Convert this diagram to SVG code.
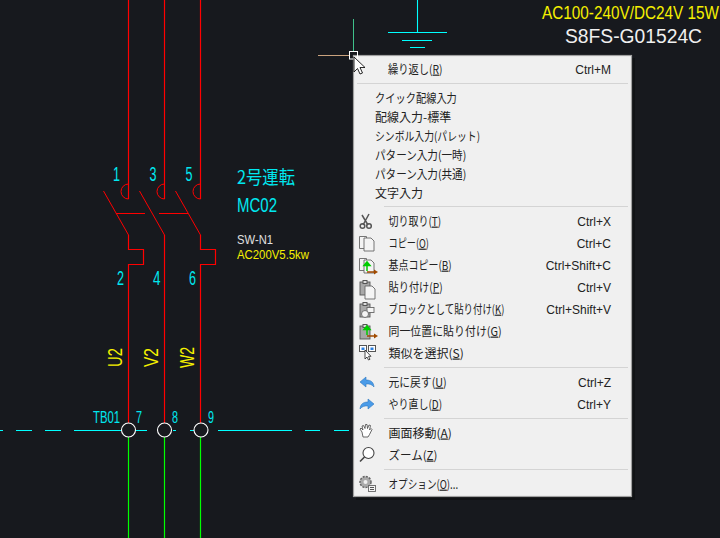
<svg xmlns="http://www.w3.org/2000/svg" width="720" height="538" viewBox="0 0 720 538">
<style>
.red{fill:none;stroke:#f00;stroke-width:1.2}
.redt{fill:none;stroke:#f00;stroke-width:1}
.grn{fill:none;stroke:#0f0;stroke-width:1.2}
.cy{fill:none;stroke:#0ff;stroke-width:1.1}
.cad{font-family:"Liberation Sans",sans-serif}
.c{fill:#00e8f0}.y{fill:#f5f000}.w{fill:#f0f0f0}
.m{font-family:"Noto Sans CJK JP","Noto Sans",sans-serif;font-size:12px;fill:#222}
.k{font-family:"Liberation Sans","Noto Sans",sans-serif;font-size:12px;fill:#222;text-anchor:end}
.sep{stroke:#d4d4d4;stroke-width:1.2}
.ic{fill:#f4f4f4;stroke:#666;stroke-width:.9}
.icd{fill:#a8a8a8;stroke:#555;stroke-width:.9}
.u{text-decoration:underline}
</style>
<defs>
<g id="sheet"><path class="ic" d="M0 0h7l3 3v10H0z"/></g>
<g id="board"><rect class="icd" x="0" y="2" width="10" height="13"/><rect x="3" y="0.5" width="4" height="3" fill="#ddd" stroke="#555"/></g>
<g id="basearrow"><path d="M0 6h9" stroke="#a04a00" stroke-width="1.5"/><path d="M7 3.500l4 2.500-4 2.500z" fill="#a04a00"/><path d="M0 5V-1M-3 -0.500L0 -4l3 3.500z" fill="#0c0" stroke="#0c0" stroke-width="1.500"/></g>
</defs>
<rect width="720" height="538" fill="#17191e"/>

<g id="connectors">
<path class="red" d="M128.500 0V199"/><path class="red" d="M164.500 0V199"/><path class="red" d="M200.500 0V199"/>
<path class="redt" d="M128.500 184A7.500 7.500 0 0 0 128.500 199M164.500 184A7.500 7.500 0 0 0 164.500 199M200.500 184A7.500 7.500 0 0 0 200.500 199"/>
<path class="redt" d="M103.500 191L128.500 235M139.500 191L164.500 235M175.500 191L200.500 235M116 213.500H145M159 213.500H188"/>
<path class="red" d="M128.500 235V249.500H143.500V264.500H128.500V423"/>
<path class="red" d="M164.500 235V423"/>
<path class="red" d="M200.500 235V249.500H215.500V264.500H200.500V423"/>
<path class="grn" d="M128.500 437V538M164.500 437V538M200.500 437V538"/>
<path class="cy" d="M0 430.500H3M16 430.500H32M45 430.500H61M74 430.500H121M136 430.500H147M173 430.500H176M190 430.500H194M218 430.500H292M305 430.500H320M334 430.500H349"/>
<path class="cy" d="M417.500 0V32M388 32.500H447M402 40.500H432M410 47.500H425"/>
</g>

<g id="terminals" fill="none" stroke="#fff" stroke-width="1.100">
<circle cx="128.500" cy="430" r="7"/><circle cx="164.500" cy="430" r="7"/><circle cx="201" cy="430" r="7"/>
</g>

<g id="cad-labels" class="cad">
<text class="y" transform="translate(542 19) scale(.806 1)" font-size="19">AC100-240V/DC24V 15W</text>
<text class="w" x="565" y="43" font-size="20" textLength="137" lengthAdjust="spacingAndGlyphs">S8FS-G01524C</text>
<g class="c" font-size="19.500">
<text x="113" y="180.500" textLength="7" lengthAdjust="spacingAndGlyphs">1</text>
<text x="149.500" y="180.500" textLength="7" lengthAdjust="spacingAndGlyphs">3</text>
<text x="185.500" y="180.500" textLength="7" lengthAdjust="spacingAndGlyphs">5</text>
<text x="117" y="285" textLength="7" lengthAdjust="spacingAndGlyphs">2</text>
<text x="153" y="285" textLength="7.500" lengthAdjust="spacingAndGlyphs">4</text>
<text x="189" y="285" textLength="7" lengthAdjust="spacingAndGlyphs">6</text>
</g>
<text class="c" x="237" y="184" font-size="18" textLength="58" lengthAdjust="spacingAndGlyphs" style="font-family:'Noto Sans CJK JP','Liberation Sans',sans-serif">2号運転</text>
<text class="c" x="237" y="212" font-size="20" textLength="40" lengthAdjust="spacingAndGlyphs">MC02</text>
<text fill="#e0e0e0" x="237" y="244" font-size="13.500" textLength="36" lengthAdjust="spacingAndGlyphs">SW-N1</text>
<text class="y" x="237" y="258.500" font-size="13" textLength="72" lengthAdjust="spacingAndGlyphs">AC200V5.5kw</text>
<g class="y" font-size="20">
<text transform="translate(121.500 367) rotate(-90)" textLength="19" lengthAdjust="spacingAndGlyphs">U2</text>
<text transform="translate(157.500 367) rotate(-90)" textLength="19" lengthAdjust="spacingAndGlyphs">V2</text>
<text transform="translate(193.500 368) rotate(-90)" textLength="21" lengthAdjust="spacingAndGlyphs">W2</text>
</g>
<g class="c" font-size="16.500">
<text x="93" y="422.500" textLength="27" lengthAdjust="spacingAndGlyphs">TB01</text>
<text x="136" y="422.500" textLength="6" lengthAdjust="spacingAndGlyphs">7</text>
<text x="172" y="422.500" textLength="6" lengthAdjust="spacingAndGlyphs">8</text>
<text x="208" y="422.500" textLength="6" lengthAdjust="spacingAndGlyphs">9</text>
</g>
</g>

<g id="crosshair">
<path d="M353.500 19V51" stroke="#3fc08a" stroke-width="1"/>
<path d="M318 55.500H349" stroke="#c9a27e" stroke-width="1"/>
</g>

<g id="menu">
<rect x="356" y="58" width="279" height="442" fill="#0b0c0e" opacity=".55"/>
<rect x="353.500" y="55.500" width="278" height="441" fill="#f0f0f0" stroke="#a0a0a0" stroke-width="1.200"/>
<path class="sep" d="M357 83.500H628M384 206.500H628M384 367.500H628M384 418.500H628M384 469.500H628"/>
<g class="m">
<text transform="translate(388 73.500) scale(.857 1)">繰り返し(<tspan class="u">R</tspan>)</text>
<text transform="translate(375 102.500) scale(.854 1)">クイック配線入力</text>
<text transform="translate(375 121.500)">配線入力-標準</text>
<text transform="translate(375 140.500) scale(.82 1)">シンボル入力(パレット)</text>
<text transform="translate(375 159.500) scale(.883 1)">パターン入力(一時)</text>
<text transform="translate(375 178.500) scale(.883 1)">パターン入力(共通)</text>
<text transform="translate(375 197.500)">文字入力</text>
<text transform="translate(388.500 225.500) scale(.833 1)">切り取り(<tspan class="u">T</tspan>)</text>
<text transform="translate(388.500 247.500) scale(.764 1)">コピー(<tspan class="u">O</tspan>)</text>
<text transform="translate(388.500 269.500) scale(.833 1)">基点コピー(<tspan class="u">B</tspan>)</text>
<text transform="translate(388.500 291.500) scale(.85 1)">貼り付け(<tspan class="u">P</tspan>)</text>
<text transform="translate(388.500 313.500) scale(.786 1)">ブロックとして貼り付け(<tspan class="u">K</tspan>)</text>
<text transform="translate(388.500 335.500) scale(.911 1)">同一位置に貼り付け(<tspan class="u">G</tspan>)</text>
<text transform="translate(388.500 357.500)">類似を選択(<tspan class="u">S</tspan>)</text>
<text transform="translate(388.500 386.500) scale(.9 1)">元に戻す(<tspan class="u">U</tspan>)</text>
<text transform="translate(388.500 408.500) scale(.833 1)">やり直し(<tspan class="u">D</tspan>)</text>
<text transform="translate(388.500 437.500)">画面移動(<tspan class="u">A</tspan>)</text>
<text transform="translate(388.500 459.500) scale(.96 1)">ズーム(<tspan class="u">Z</tspan>)</text>
<text transform="translate(388.500 488.500) scale(.8 1)">オプション(<tspan class="u">O</tspan>)...</text>
</g>
<g class="k">
<text x="611" y="73.500">Ctrl+M</text>
<text x="611" y="225.500">Ctrl+X</text>
<text x="611" y="247.500">Ctrl+C</text>
<text x="611" y="269.500">Ctrl+Shift+C</text>
<text x="611" y="291.500">Ctrl+V</text>
<text x="611" y="313.500">Ctrl+Shift+V</text>
<text x="611" y="386.500">Ctrl+Z</text>
<text x="611" y="408.500">Ctrl+Y</text>
</g>
<g id="menu-icons">
<g id="icon-cut" fill="none" stroke="#555" stroke-width="1.500"><path d="M369 214L363 225M362 215L368 225"/><circle cx="362.500" cy="226" r="2.300"/><circle cx="369" cy="226" r="2.300"/></g>
<g id="icon-copy"><path class="ic" d="M359.500 236.500h7v12h-7z"/><use href="#sheet" x="364" y="238"/></g>
<g id="icon-basecopy"><path class="ic" d="M359.500 258.500h7v12h-7z"/><use href="#sheet" x="364" y="260"/><use href="#basearrow" x="367" y="266"/></g>
<g id="icon-paste"><use href="#board" x="360" y="280"/><use href="#sheet" x="365" y="286"/></g>
<g id="icon-pasteblock"><use href="#board" x="360" y="302"/><rect class="ic" x="367" y="307.500" width="7" height="5"/><circle class="ic" cx="365" cy="314" r="3.500"/></g>
<g id="icon-pastesame"><use href="#board" x="360" y="324"/><use href="#basearrow" x="367" y="330"/></g>
<g id="icon-similar"><rect x="359.500" y="345.500" width="7" height="6" fill="#fff" stroke="#555"/><rect x="368.500" y="345.500" width="7" height="6" fill="#fff" stroke="#555"/><rect x="361.500" y="347.500" width="3" height="2.500" fill="#2a7fe0"/><rect x="370.500" y="347.500" width="3" height="2.500" fill="#2a7fe0"/><path d="M365 350v9l2-2 1.500 3 1.500-.7-1.500-3H371z" fill="#fff" stroke="#222" stroke-width=".8"/></g>
<g id="icon-undo"><path d="M360 382l6-5v3c5 0 7.500 2 8 7-2-2.500-4.500-3.500-8-3v3z" fill="#4a9be8" stroke="#2f78c0" stroke-width=".6"/></g>
<g id="icon-redo"><path d="M374 404l-6-5v3c-5 0-7.500 2-8 7 2-2.500 4.500-3.500 8-3v3z" fill="#4a9be8" stroke="#2f78c0" stroke-width=".6"/></g>
<g id="icon-hand"><path d="M362 432l-2-3 1-1 2 2-1-4 1.500-.5 1.500 3 .5-4 1.500 0 .5 4 1.500-3.500 1.500.5-1 4.500 1.500-1.500 1 1-2.500 5-1.500 2.500h-5z" fill="#fff" stroke="#444" stroke-width=".8"/></g>
<g id="icon-zoom" fill="#fff" stroke="#444" stroke-width="1.100"><circle cx="368.500" cy="453" r="5.500"/><path d="M364.500 457L360 461.500" stroke-width="1.600"/></g>
<g id="icon-options"><circle cx="365.500" cy="482" r="5.500" fill="#aaa" stroke="#666" stroke-width="1.500" stroke-dasharray="2 1.200"/><circle cx="365.500" cy="482" r="2" fill="#f0f0f0"/><rect class="ic" x="368.500" y="485.500" width="7" height="6"/><path d="M370 487.500h4M370 489.500h4" stroke="#555"/></g>
</g>
</g>

<g id="cursor">
<rect x="349.500" y="51.500" width="8" height="7.500" fill="none" stroke="#fff" stroke-width="1"/>
<path d="M354 57V72L357.500 68.500 360 74 362.500 73 360 67.500H365z" fill="#fff" stroke="#111" stroke-width=".9"/>
</g>
</svg>
